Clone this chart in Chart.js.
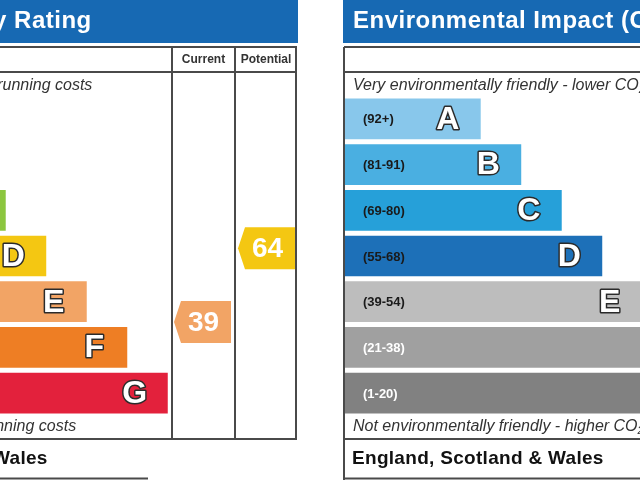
<!DOCTYPE html>
<html>
<head>
<meta charset="utf-8">
<script src="https://cdn.jsdelivr.net/npm/chart.js@4.4.1/dist/chart.umd.min.js"></script>
<style>
  html, body { margin: 0; padding: 0; background: #fff; }
  body { width: 640px; height: 480px; overflow: hidden; position: relative; }
  canvas { position: absolute; top: 0; }
  #energy { left: -213px; }
  #enviro { left: 343px; }
</style>
</head>
<body>
<canvas id="energy" width="512" height="480"></canvas>
<canvas id="enviro" width="512" height="480"></canvas>
<script>
// Bands and their score ranges
const bands = ["A", "B", "C", "D", "E", "F", "G"];
const bandSteps = [1, 2, 3, 4, 5, 6, 7];
const bandMin = [92, 81, 69, 55, 39, 21, 1];
const bandMax = [100, 91, 80, 68, 54, 38, 20];
const rangeLabels = ["(92+)", "(81-91)", "(69-80)", "(55-68)", "(39-54)", "(21-38)", "(1-20)"];

// Energy efficiency ratings of the property
const energyCurrent = 39;
const energyPotential = 64;

const energyColors = ["#008054", "#19b459", "#8cc63f", "#f4c712", "#f2a465", "#ee7e24", "#e3213c"];
const enviroColors = ["#88c7eb", "#4aafe1", "#26a0d9", "#1d70b8", "#bdbdbd", "#a0a0a0", "#818181"];
const rangeTextColors = ["#1a1a1a", "#1a1a1a", "#1a1a1a", "#1a1a1a", "#1a1a1a", "#ffffff", "#ffffff"];

const FONT = '"Liberation Sans", Arial, sans-serif';
const LINE = "#4a4a4a";

// Draw text where "CO2" gets a subscript 2
function subText(ctx, text, x, y, size, style) {
  const parts = text.split("CO2");
  let cx = x;
  parts.forEach((p, i) => {
    ctx.font = style + " " + size + "px " + FONT;
    ctx.fillText(p, cx, y);
    cx += ctx.measureText(p).width;
    if (i < parts.length - 1) {
      ctx.fillText("CO", cx, y);
      cx += ctx.measureText("CO").width;
      ctx.font = style + " " + Math.round(size * 0.7) + "px " + FONT;
      ctx.fillText("2", cx, y + 4);
      cx += ctx.measureText("2").width;
    }
  });
}

function drawArrow(ctx, el, band, score, left, right, color) {
  const bottom = el.y + el.height / 2;
  const frac = (score - bandMin[band]) / (bandMax[band] - bandMin[band]);
  const cy = bottom - frac * el.height;
  const h = 42;
  ctx.fillStyle = color;
  ctx.beginPath();
  ctx.moveTo(left, cy);
  ctx.lineTo(left + 7, cy - h / 2);
  ctx.lineTo(right, cy - h / 2);
  ctx.lineTo(right, cy + h / 2);
  ctx.lineTo(left + 7, cy + h / 2);
  ctx.closePath();
  ctx.fill();
  ctx.fillStyle = "#fff";
  ctx.font = "bold 28px " + FONT;
  ctx.textAlign = "center";
  ctx.textBaseline = "middle";
  ctx.fillText(String(score), (left + right) / 2 + 1, cy + 1);
}

function panelPlugin(p) {
  return {
    id: "epcPanel",
    beforeDatasetsDraw(chart) {
      const ctx = chart.ctx;
      ctx.save();
      ctx.fillStyle = "#1769b3";
      ctx.fillRect(0, 0, 511, 43);
      ctx.fillStyle = "#fff";
      ctx.textBaseline = "middle";
      ctx.letterSpacing = "0.5px";
      subText(ctx, p.title, 10, 21, 24, "bold");
      ctx.restore();
    },
    afterDatasetsDraw(chart) {
      const ctx = chart.ctx;
      const meta = chart.getDatasetMeta(0);
      ctx.save();

      // band range labels and letters
      meta.data.forEach((el, i) => {
        ctx.textBaseline = "middle";
        ctx.textAlign = "left";
        ctx.fillStyle = rangeTextColors[i];
        ctx.font = "bold 13px " + FONT;
        ctx.fillText(rangeLabels[i], 20, el.y + 1);

        ctx.textAlign = "center";
        ctx.font = "bold 32px " + FONT;
        ctx.lineJoin = "round";
        ctx.lineWidth = 3;
        ctx.strokeStyle = "#2b2b2b";
        ctx.strokeText(bands[i], el.x - 33, el.y + 1);
        ctx.fillStyle = "#fff";
        ctx.fillText(bands[i], el.x - 33, el.y + 1);
      });

      // table lines
      ctx.strokeStyle = LINE;
      ctx.lineWidth = 2;
      ctx.beginPath();
      ctx.moveTo(1, 47); ctx.lineTo(510, 47);
      ctx.moveTo(1, 72); ctx.lineTo(510, 72);
      ctx.moveTo(1, 439); ctx.lineTo(510, 439);
      ctx.moveTo(1, 478.5); ctx.lineTo(361, 478.5);
      ctx.moveTo(1, 47); ctx.lineTo(1, 480);
      ctx.moveTo(385, 47); ctx.lineTo(385, 439);
      ctx.moveTo(448, 47); ctx.lineTo(448, 439);
      ctx.moveTo(509, 47); ctx.lineTo(509, 439);
      ctx.stroke();

      ctx.fillStyle = "#333";
      ctx.textBaseline = "middle";
      ctx.textAlign = "center";
      ctx.font = "bold 12px " + FONT;
      ctx.fillText("Current", 416.5, 60);
      ctx.fillText("Potential", 479, 60);

      ctx.textAlign = "left";
      subText(ctx, p.top, p.topX, 86, 16, "italic");
      subText(ctx, p.bottom, p.bottomX, 427, 16, "italic");
      ctx.fillStyle = "#111";
      ctx.letterSpacing = "0.3px";
      ctx.font = "bold 19px " + FONT;
      ctx.fillText("England, Scotland & Wales", 9, 459);
      ctx.letterSpacing = "0px";

      if (p.current) {
        const bc = bands.findIndex((b, i) => p.current >= bandMin[i]);
        const bp = bands.findIndex((b, i) => p.potential >= bandMin[i]);
        drawArrow(ctx, meta.data[bc], bc, p.current, 387, 444, p.colors[bc]);
        drawArrow(ctx, meta.data[bp], bp, p.potential, 451, 508, p.colors[bp]);
      }
      ctx.restore();
    }
  };
}

function makePanel(id, colors, p) {
  p.colors = colors;
  return new Chart(document.getElementById(id), {
    type: "bar",
    data: {
      labels: bands,
      datasets: [{
        data: bandSteps,
        base: -2.4,
        backgroundColor: colors,
        borderWidth: 0,
        barPercentage: 0.89,
        categoryPercentage: 1
      }]
    },
    options: {
      indexAxis: "y",
      responsive: false,
      animation: false,
      devicePixelRatio: 1,
      layout: { padding: { top: 96, bottom: 64, left: 0, right: 0 } },
      scales: {
        x: { display: false, min: -2.4, max: 10.24 },
        y: { display: false }
      },
      plugins: { legend: { display: false }, tooltip: { enabled: false } }
    },
    plugins: [panelPlugin(p)]
  });
}

makePanel("energy", energyColors, {
  title: "Energy Efficiency Rating",
  top: "Very energy efficient - lower running costs",
  bottom: "Not energy efficient - higher running costs",
  topX: 8,
  bottomX: -7,
  current: energyCurrent,
  potential: energyPotential
});

makePanel("enviro", enviroColors, {
  title: "Environmental Impact (CO2) Rating",
  top: "Very environmentally friendly - lower CO2 emissions",
  bottom: "Not environmentally friendly - higher CO2 emissions",
  topX: 10,
  bottomX: 10
});
</script>
</body>
</html>
